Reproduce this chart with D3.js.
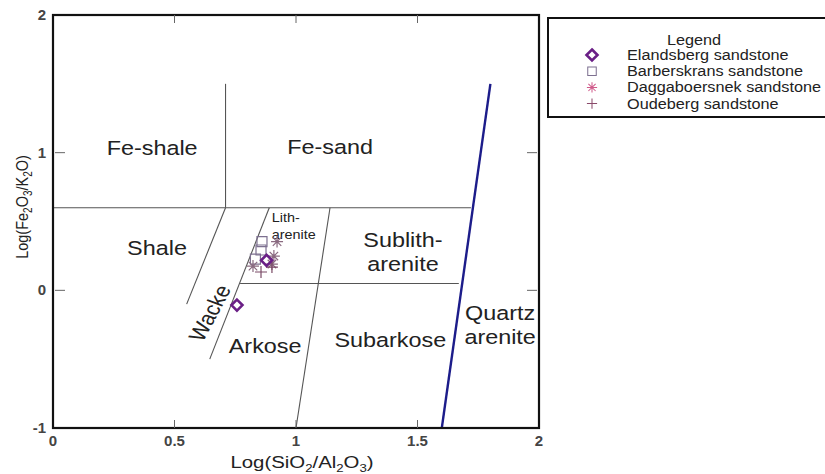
<!DOCTYPE html>
<html><head><meta charset="utf-8">
<script src="https://cdn.jsdelivr.net/npm/d3@7/dist/d3.min.js"></script>
<style>body{margin:0;background:#fff}svg{display:block}text{font-family:"Liberation Sans",Arial,sans-serif}</style>
</head><body><svg id="c" width="825" height="474"></svg>
<script>
// ---- data ----
const xTicks = [0, 0.5, 1, 1.5, 2];
const yTicks = [-1, 0, 1, 2];
const xTickLabels = ["0", "0.5", "1", "1.5", "2"];
const yTickLabels = ["-1", "0", "1", "2"];
// field boundaries [x1,y1,x2,y2]
const boundaries = [
  [0, 0.6, 1.72, 0.6],
  [0.71, 0.6, 0.71, 1.5],
  [0.71, 0.6, 0.55, -0.1],
  [0.89, 0.6, 0.645, -0.5],
  [0.77, 0.05, 1.67, 0.05],
  [1.14, 0.6, 1.0, -1]
];
const quartzLine = [1.6, -1, 1.8, 1.5];
const fieldLabels = [
  {t: ["Fe-shale"], x: 0.408, y: 0.98, s: 19.5, a: "middle"},
  {t: ["Fe-sand"], x: 1.14, y: 0.99, s: 19.5, a: "middle"},
  {t: ["Shale"], x: 0.428, y: 0.26, s: 19.5, a: "middle"},
  {t: ["Lith-", "arenite"], x: 0.9, y: 0.5, s: 12, a: "start"},
  {t: ["Sublith-", "arenite"], x: 1.44, y: 0.315, s: 19.5, a: "middle"},
  {t: ["Arkose"], x: 0.873, y: -0.455, s: 19.5, a: "middle"},
  {t: ["Subarkose"], x: 1.388, y: -0.41, s: 19.5, a: "middle"},
  {t: ["Quartz", "arenite"], x: 1.84, y: -0.215, s: 19.5, a: "middle"}
];
const series = ["Elandsberg sandstone", "Barberskrans sandstone", "Daggaboersnek sandstone", "Oudeberg sandstone"];
const elandsberg = [[0.757, -0.107], [0.879, 0.218]];
const barberskrans = [[0.86, 0.354], [0.856, 0.293], [0.833, 0.227]];
const daggaboersnek = [[0.922, 0.354], [0.909, 0.249], [0.823, 0.176], [0.901, 0.191]];
const oudeberg = [[0.856, 0.133], [0.901, 0.169]];

// ---- drawing ----
const SX = 1.2; // horizontal stretch of the original figure's lettering
const svg = d3.select("#c");
const x = d3.scaleLinear().domain([0, 2]).range([53, 539]);
const y = d3.scaleLinear().domain([-1, 2]).range([428, 15]);

const g = svg.append("g");
g.selectAll("line.b").data(boundaries).join("line")
  .attr("x1", d => x(d[0])).attr("y1", d => y(d[1]))
  .attr("x2", d => x(d[2])).attr("y2", d => y(d[3]))
  .attr("stroke", "#555").attr("stroke-width", 1.1);
g.append("line")
  .attr("x1", x(quartzLine[0])).attr("y1", y(quartzLine[1]))
  .attr("x2", x(quartzLine[2])).attr("y2", y(quartzLine[3]))
  .attr("stroke", "#1c1c8a").attr("stroke-width", 2.4);

fieldLabels.forEach(f => {
  const t = g.append("text").attr("text-anchor", f.a)
    .attr("transform", `translate(${x(f.x)},${y(f.y)}) scale(${SX},1)`)
    .attr("font-size", f.s).attr("fill", "#222");
  f.t.forEach((line, i) => {
    t.append("tspan").attr("x", 0).attr("y", i * f.s * (f.s < 15 ? 1.45 : 1.22)).text(line);
  });
});
g.append("text").attr("transform", `translate(${x(0.645)},${y(-0.165)}) scale(${SX},1) rotate(-66)`)
  .attr("text-anchor", "middle").attr("dy", "0.35em").attr("font-size", 19.5)
  .attr("fill", "#222").text("Wacke");

// frame
svg.append("rect").attr("x", x(0)).attr("y", y(2)).attr("width", x(2) - x(0)).attr("height", y(-1) - y(2))
  .attr("fill", "none").attr("stroke", "#111").attr("stroke-width", 2.2);
const inner = [0.5, 1, 1.5];
svg.selectAll("line.xb").data(inner).join("line")
  .attr("x1", d => x(d)).attr("x2", d => x(d)).attr("y1", y(-1)).attr("y2", y(-1) - 8)
  .attr("stroke", "#666").attr("stroke-width", 1);
svg.selectAll("line.xt").data(inner).join("line")
  .attr("x1", d => x(d)).attr("x2", d => x(d)).attr("y1", y(2)).attr("y2", y(2) + 8)
  .attr("stroke", "#666").attr("stroke-width", 1);
const yin = [0, 1];
svg.selectAll("line.yl").data(yin).join("line")
  .attr("x1", x(0) + 2).attr("x2", x(0) + 12).attr("y1", d => y(d)).attr("y2", d => y(d))
  .attr("stroke", "#666").attr("stroke-width", 1);
svg.selectAll("line.yr").data(yin).join("line")
  .attr("x1", x(2) - 2).attr("x2", x(2) - 12).attr("y1", d => y(d)).attr("y2", d => y(d))
  .attr("stroke", "#666").attr("stroke-width", 1);
svg.selectAll("text.xl").data(xTicks).join("text")
  .attr("x", d => x(d)).attr("y", 446).attr("text-anchor", "middle")
  .attr("font-size", 15).attr("font-weight", "bold").attr("fill", "#444")
  .text((d, i) => xTickLabels[i]);
svg.selectAll("text.yl").data(yTicks).join("text")
  .attr("x", 46).attr("y", d => y(d) + 5).attr("text-anchor", "end")
  .attr("font-size", 15).attr("font-weight", "bold").attr("fill", "#444")
  .text((d, i) => yTickLabels[i]);

// axis titles
const xt = svg.append("text").attr("transform", `translate(302,468) scale(${SX},1)`).attr("text-anchor", "middle")
  .attr("font-size", 17).attr("fill", "#222");
xt.append("tspan").text("Log(SiO");
xt.append("tspan").attr("font-size", 11).attr("dy", 4).text("2");
xt.append("tspan").attr("dy", -4).text("/Al");
xt.append("tspan").attr("font-size", 11).attr("dy", 4).text("2");
xt.append("tspan").attr("dy", -4).text("O");
xt.append("tspan").attr("font-size", 11).attr("dy", 4).text("3");
xt.append("tspan").attr("dy", -4).text(")");
const yt = svg.append("text").attr("transform", `translate(28,207) scale(${SX},1) rotate(-90)`).attr("text-anchor", "middle")
  .attr("font-size", 14.5).attr("fill", "#222");
yt.append("tspan").text("Log(Fe");
yt.append("tspan").attr("font-size", 10).attr("dy", 3.5).text("2");
yt.append("tspan").attr("dy", -3.5).text("O");
yt.append("tspan").attr("font-size", 10).attr("dy", 3.5).text("3");
yt.append("tspan").attr("dy", -3.5).text("/K");
yt.append("tspan").attr("font-size", 10).attr("dy", 3.5).text("2");
yt.append("tspan").attr("dy", -3.5).text("O)");

// markers
const diamond = (cx, cy, r) => `M${cx},${cy - r}L${cx + r},${cy}L${cx},${cy + r}L${cx - r},${cy}Z`;
const star = (cx, cy, r) => {
  let p = "";
  for (let k = 0; k < 4; k++) {
    const a = k * Math.PI / 4;
    p += `M${cx - r * Math.cos(a)},${cy - r * Math.sin(a)}L${cx + r * Math.cos(a)},${cy + r * Math.sin(a)}`;
  }
  return p;
};
const plus = (cx, cy, r) => `M${cx - r},${cy}L${cx + r},${cy}M${cx},${cy - r}L${cx},${cy + r}`;
const square = (cx, cy, r) => `M${cx - r},${cy - r}h${2 * r}v${2 * r}h${-2 * r}Z`;
const styles = [
  {data: elandsberg, f: (a, b) => diamond(a, b, 5.5), c: "#6a1f86", w: 2.6},
  {data: barberskrans, f: (a, b) => square(a, b, 5), c: "#7d7090", w: 1.2},
  {data: daggaboersnek, f: (a, b) => star(a, b, 6), c: "#8a6a80", w: 1.2},
  {data: oudeberg, f: (a, b) => plus(a, b, 6), c: "#7a4a66", w: 1.2}
];
[1, 2, 3, 0].forEach(i => {
  const s = styles[i];
  svg.append("g").selectAll("path").data(s.data).join("path")
    .attr("d", d => s.f(x(d[0]), y(d[1])))
    .attr("fill", "none").attr("stroke", s.c).attr("stroke-width", s.w);
});

// legend
const LSX = 1.16;
const lg = svg.append("g");
lg.append("rect").attr("x", 548).attr("y", 18).attr("width", 300).attr("height", 99)
  .attr("fill", "#fff").attr("stroke", "#111").attr("stroke-width", 2);
lg.append("text").attr("transform", `translate(694,45) scale(${LSX},1)`).attr("text-anchor", "middle")
  .attr("font-size", 14).attr("fill", "#222").text("Legend");
const lcol = ["#6a1f86", "#7d7090", "#d05a8a", "#8a4a6a"];
series.forEach((name, i) => {
  const yy = 55 + i * 16.2;
  const s = styles[i];
  lg.append("path").attr("d", s.f(592, yy)).attr("fill", "none")
    .attr("stroke", lcol[i]).attr("stroke-width", s.w)
    .attr("transform", i === 0 ? "" : `translate(592,${yy}) scale(0.85) translate(-592,${-yy})`);
  lg.append("text").attr("transform", `translate(627,${yy + 5}) scale(${LSX},1)`).attr("font-size", 14)
    .attr("fill", "#222").text(name);
});
</script></body></html>
